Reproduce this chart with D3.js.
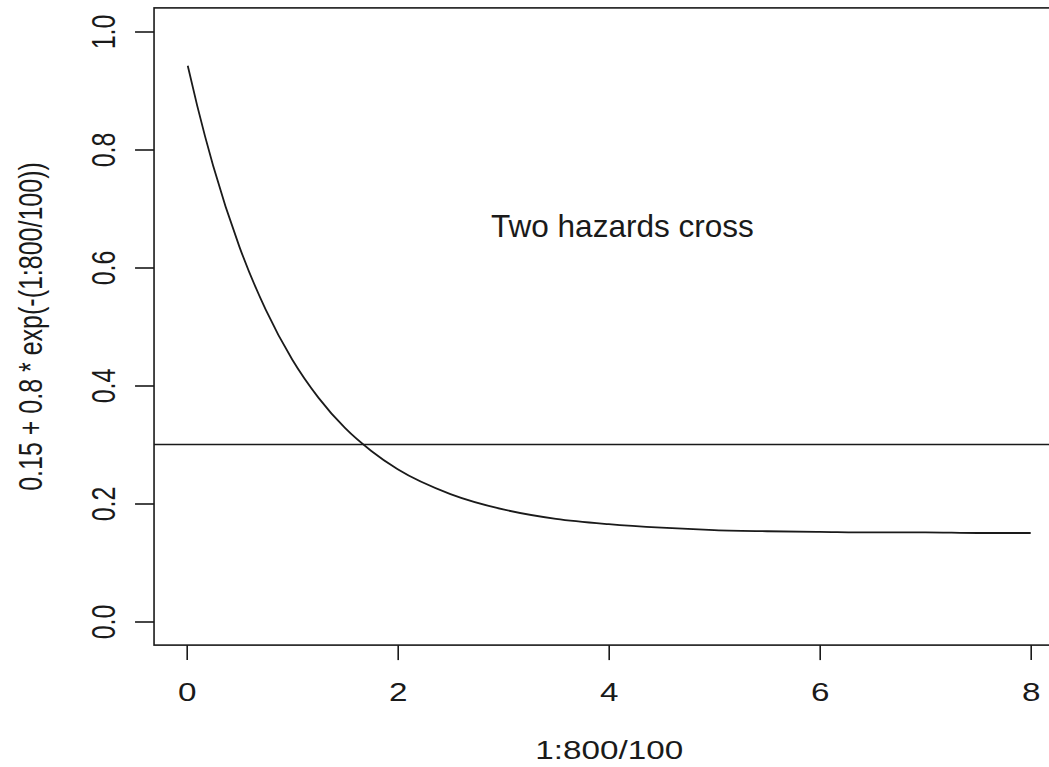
<!DOCTYPE html>
<html>
<head>
<meta charset="utf-8">
<script src="https://cdn.jsdelivr.net/npm/d3@7"></script>
<style>
  html, body { margin: 0; padding: 0; background: #fff; }
  svg { display: block; }
  text { font-family: "Liberation Sans", Arial, sans-serif; fill: #1a1a1a; }
</style>
</head>
<body>
<svg id="chart" width="1049" height="767"></svg>
<script>
// ---- data ----
const xValues = [0.01, 0.1, 0.25, 0.5, 0.75, 1, 1.25, 1.5, 1.75, 2, 2.5, 3, 3.5, 4, 4.5, 5, 5.5, 6, 6.5, 7, 7.5, 8];
const yValues = [0.942, 0.874, 0.773, 0.635, 0.528, 0.444, 0.379, 0.328, 0.289, 0.258, 0.216, 0.190, 0.174, 0.165, 0.159, 0.155, 0.153, 0.152, 0.151, 0.151, 0.150, 0.150];
const hLineValue = 0.3;
const xTicks = [0, 2, 4, 6, 8];
const yTicks = [0.0, 0.2, 0.4, 0.6, 0.8, 1.0];
const yTickLabels = ["0.0", "0.2", "0.4", "0.6", "0.8", "1.0"];
const xTitle = "1:800/100";
const yTitle = "0.15 + 0.8 * exp(-(1:800/100))";
const annotation = { text: "Two hazards cross", x: 4.13, y: 0.67 };

// ---- layout ----
const svg = d3.select("#chart");
const ink = "#1a1a1a";
const sx = 1.33; // horizontal stretch of the picture's lettering

const x = d3.scaleLinear().domain([0, 8]).range([186.7, 1030.7]);
const y = d3.scaleLinear().domain([0, 1]).range([621.5, 31.5]);

// R-style 4% extended plotting region
const xMin = d3.min(xValues), xMax = d3.max(xValues);
const xl = xMin - 0.04 * (xMax - xMin), xr = xMax + 0.04 * (xMax - xMin);
const yl = 0 - 0.04, yr = 1 + 0.04;
const box = { x0: x(xl), x1: x(xr), y0: y(yr), y1: y(yl) };

svg.append("rect")
  .attr("x", box.x0).attr("y", box.y0)
  .attr("width", box.x1 - box.x0).attr("height", box.y1 - box.y0)
  .attr("fill", "none").attr("stroke", ink).attr("stroke-width", 1.6);

// x axis
const gx = svg.append("g").attr("transform", `translate(0,${box.y1})`)
  .call(d3.axisBottom(x).tickValues(xTicks).tickSize(15).tickFormat(d3.format("d")));
gx.select(".domain").remove();
gx.selectAll(".tick line").attr("stroke", ink).attr("stroke-width", 1.6);
gx.selectAll(".tick text")
  .attr("y", 56).attr("dy", 0)
  .attr("font-size", 25)
  .attr("fill", ink)
  .attr("transform", `scale(${sx},1)`);

// y axis
const gy = svg.append("g").attr("transform", `translate(${box.x0},0)`)
  .call(d3.axisLeft(y).tickValues(yTicks).tickSize(19).tickFormat((d, i) => yTickLabels[i]));
gy.select(".domain").remove();
gy.selectAll(".tick line").attr("stroke", ink).attr("stroke-width", 1.6);
gy.selectAll(".tick text")
  .attr("x", 0).attr("y", 0).attr("dy", 0)
  .attr("text-anchor", "middle")
  .attr("font-size", 25)
  .attr("fill", ink)
  .attr("transform", `translate(-39,0) scale(${sx},1) rotate(-90)`);

// horizontal reference line
svg.append("line")
  .attr("x1", box.x0).attr("x2", box.x1)
  .attr("y1", y(hLineValue)).attr("y2", y(hLineValue))
  .attr("stroke", ink).attr("stroke-width", 1.6);

// curve
const pts = xValues.map((v, i) => [v, yValues[i]]);
svg.append("path")
  .datum(pts)
  .attr("fill", "none")
  .attr("stroke", ink)
  .attr("stroke-width", 1.8)
  .attr("d", d3.line().x(d => x(d[0])).y(d => y(d[1])).curve(d3.curveMonotoneX));

// annotation
svg.append("text")
  .attr("text-anchor", "middle")
  .attr("font-size", 30.5)
  .attr("transform", `translate(${x(annotation.x)},${y(annotation.y) + 11}) scale(1.035,1)`)
  .text(annotation.text);

// axis titles
svg.append("text")
  .attr("text-anchor", "middle")
  .attr("font-size", 25)
  .attr("transform", `translate(${(box.x0 + box.x1) / 2},759) scale(${sx},1)`)
  .text(xTitle);

svg.append("text")
  .attr("text-anchor", "middle")
  .attr("font-size", 25)
  .attr("transform", `translate(42,${(box.y0 + box.y1) / 2}) scale(${sx},1) rotate(-90)`)
  .text(yTitle);
</script>
</body>
</html>
